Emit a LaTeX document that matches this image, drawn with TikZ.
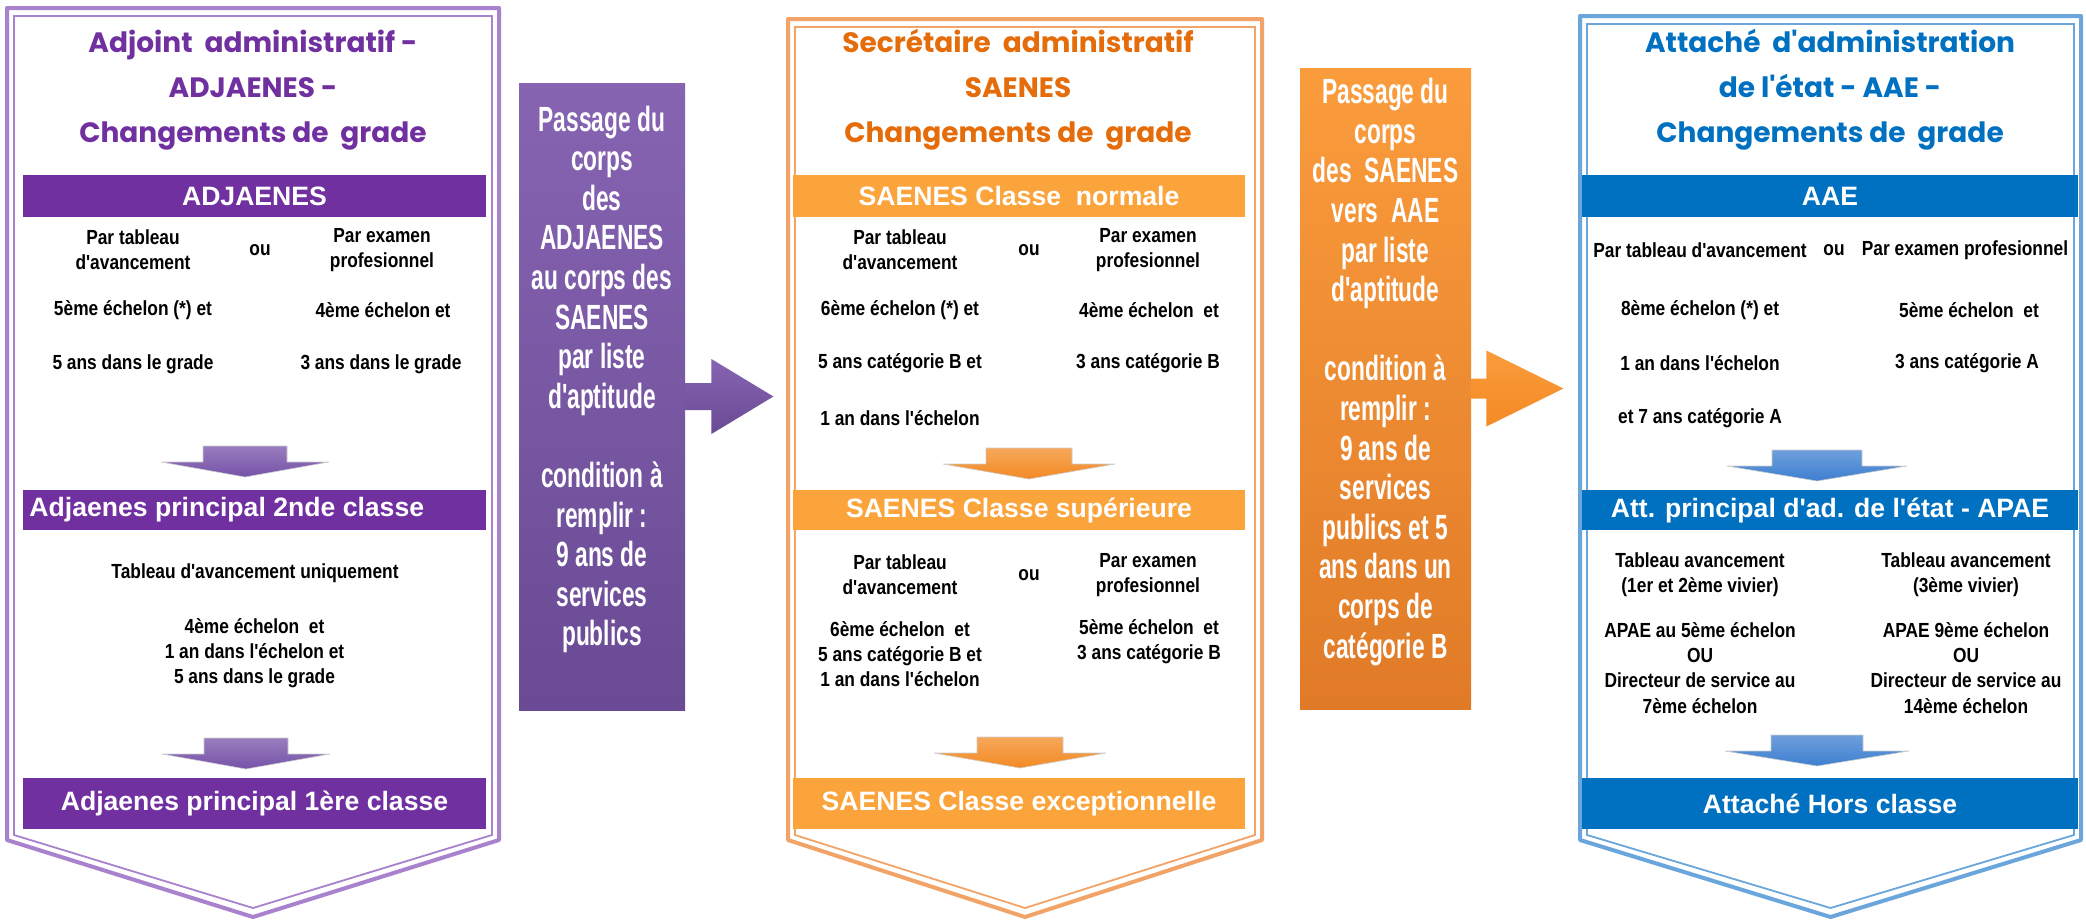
\documentclass[tikz,border=0pt]{standalone}
\usepackage{fontspec}
\usepackage{tikz}
\usetikzlibrary{arrows.meta}
\setmainfont{Liberation Sans}[Ligatures=TeXOff]
\newfontfamily\titlefont{Poppins}[Ligatures=TeXOff]
\newfontfamily\narrowfont{Liberation Sans}[Ligatures=TeXOff, FakeStretch=0.85]
\newfontfamily\agencyfont{Liberation Sans}[Ligatures=TeXOff, FakeStretch=0.65]

\definecolor{adjviolet}{HTML}{7030A0}
\definecolor{adjframe}{HTML}{A882CC}
\definecolor{adjboxtop}{HTML}{8664B2}
\definecolor{adjboxbot}{HTML}{6A4A94}
\definecolor{adjarrow}{HTML}{7652A8}
\definecolor{saeorange}{HTML}{E46C0A}
\definecolor{saebar}{HTML}{FBA43C}
\definecolor{saeframe}{HTML}{F2A468}
\definecolor{saeboxtop}{HTML}{FA9C3C}
\definecolor{saeboxbot}{HTML}{E07A27}
\definecolor{saearrow}{HTML}{F38A24}
\definecolor{aaeblue}{HTML}{0070C0}
\definecolor{aaeframe}{HTML}{6AA6DC}
\definecolor{aaearrow}{HTML}{3E7FD0}

\tikzset{
  titletext/.style={text=#1, font=\titlefont\bfseries\fontsize{14}{22.5}\selectfont, align=center, inner sep=0pt},
  gradebar/.style={fill=#1, text=white, font=\bfseries\fontsize{13.3}{15}\selectfont, inner sep=0pt},
  bodytext/.style={font=\narrowfont\bfseries\fontsize{10.2}{12.6}\selectfont, align=center, inner sep=0pt},
  passtext/.style={text=white, font=\agencyfont\bfseries\fontsize{17.5}{19.8}\selectfont, align=center, inner sep=0pt},
}

\begin{document}
\begin{tikzpicture}[x=0.5pt, y=-0.5pt]
    \useasboundingbox (0,0) rectangle (2086,921);
    \fill [white] (0,0) rectangle (2086,921);

    \foreach \xl/\xr/\yt/\col in {7/499/8/adjframe, 788/1262/19/saeframe, 1580/2081/16/aaeframe} {
        \draw [line width=2pt, color=\col, line join=round] (\xl,\yt) -- (\xr,\yt) -- (\xr,840) -- ({(\xl+\xr)/2},917) -- (\xl,840) -- cycle;
        \draw [line width=0.9pt, color=\col] (\xl+7,\yt+8) -- (\xr-7,\yt+8) -- (\xr-7,835) -- ({(\xl+\xr)/2},908) -- (\xl+7,835) -- cycle;
    }

    \foreach \cx/\cy/\hw/\col in {245/446/42/adjarrow, 246/738/42/adjarrow, 1029/448/43/saearrow, 1020/737/43/saearrow, 1817/450/45/aaearrow, 1817/735/46/aaearrow}
        \shade [top color=\col!75!white, bottom color=\col, draw=black!20, line width=0.3pt] (\cx-\hw,\cy) -- (\cx+\hw,\cy) -- (\cx+\hw,\cy+16) -- (\cx+2*\hw,\cy+16) -- (\cx,\cy+31) -- (\cx-2*\hw,\cy+16) -- (\cx-\hw,\cy+16) -- cycle;

    \node (adjtitle) [titletext=adjviolet] at (253,90) {Adjoint~ administratif -\\ADJAENES -\\Changements de~ grade};
    \node (adjgrade1) [gradebar=adjviolet, minimum width=231.5pt, minimum height=21pt] at (254.5,196) {ADJAENES};
    \node (adjtab) [bodytext] at (133,250) {Par tableau\\d'avancement};
    \node (adjou) [bodytext] at (260,250) {ou};
    \node (adjexam) [bodytext] at (382,250) {Par examen\\profesionnel};
    \node (adjechtab) [bodytext] at (133,310) {5ème échelon (*) et};
    \node (adjechexam) [bodytext] at (383,310) {4ème échelon et};
    \node (adjanstab) [bodytext] at (133,364) {5 ans dans le grade};
    \node (adjansexam) [bodytext] at (381,364) {3 ans dans le grade};
    \node (adjgrade2) [gradebar=adjviolet, minimum width=231.5pt, minimum height=20pt] at (254.5,510) {};
    \node (adjgrade2txt) [gradebar=adjviolet, anchor=west] at (29,510) {Adjaenes principal 2nde classe};
    \node (adjuniq) [bodytext] at (255,573) {Tableau d'avancement uniquement};
    \node (adjcond) [bodytext] at (254.5,653) {4ème échelon~ et\\1 an dans l'échelon et\\5 ans dans le grade};
    \node (adjgrade3) [gradebar=adjviolet, minimum width=231.5pt, minimum height=25.5pt] at (254.5,803.5) {Adjaenes principal 1ère classe};

    \node (adjpassbox) [top color=adjboxtop, bottom color=adjboxbot, minimum width=83pt, minimum height=313.5pt, inner sep=0pt] at (602,396.5) {};
    \node (adjpasstext) [passtext] at (602,379.5) {Passage du\\corps\\des\\ADJAENES\\au corps des\\SAENES\\par liste\\d'aptitude\\[19.8pt]condition à\\remplir :\\9 ans de\\services\\publics};
    \shade [top color=adjboxtop, bottom color=adjboxbot] (adjpassbox.east) ++(0,-13.5) -- ++(26,0) -- ++(0,-24) -- ++(62,37.5) -- ++(-62,37.5) -- ++(0,-24) -- ++(-26,0) -- cycle;

    \node (saetitle) [titletext=saeorange] at (1018,90) {Secrétaire~ administratif\\SAENES\\Changements de~ grade};
    \node (saegrade1) [gradebar=saebar, minimum width=226pt, minimum height=21pt] at (1019,196) {SAENES Classe~ normale};
    \node (saetab) [bodytext] at (900,250) {Par tableau\\d'avancement};
    \node (saeou) [bodytext] at (1029,250) {ou};
    \node (saeexam) [bodytext] at (1148,250) {Par examen\\profesionnel};
    \node (saeechtab) [bodytext] at (900,310) {6ème échelon (*) et};
    \node (saeechexam) [bodytext] at (1149,310) {4ème échelon~ et};
    \node (saeanstab) [bodytext] at (900,363) {5 ans catégorie B et};
    \node (saeansexam) [bodytext] at (1148,363) {3 ans catégorie B};
    \node (saeantab) [bodytext] at (900,418) {1 an dans l'échelon};
    \node (saegrade2) [gradebar=saebar, minimum width=226pt, minimum height=20pt] at (1019,510) {SAENES Classe supérieure};
    \node (saetabsup) [bodytext] at (900,575) {Par tableau\\d'avancement};
    \node (saeousup) [bodytext] at (1029,575) {ou};
    \node (saeexamsup) [bodytext] at (1148,575) {Par examen\\profesionnel};
    \node (saecondtab) [bodytext] at (900,654) {6ème échelon~ et\\5 ans catégorie B et\\1 an dans l'échelon};
    \node (saecondexam) [bodytext] at (1149,642) {5ème échelon~ et\\3 ans catégorie B};
    \node (saegrade3) [gradebar=saebar, minimum width=226pt, minimum height=25.5pt] at (1019,803.5) {SAENES Classe exceptionnelle};

    \node (saepassbox) [top color=saeboxtop, bottom color=saeboxbot, minimum width=85.5pt, minimum height=320.5pt, inner sep=0pt] at (1385.5,388.5) {};
    \node (saepasstext) [passtext] at (1385.5,372) {Passage du\\corps\\des~ SAENES\\vers~ AAE\\par liste\\d'aptitude\\[19.8pt]condition à\\remplir :\\9 ans de\\services\\publics et 5\\ans dans un\\corps de\\catégorie B};
    \shade [top color=saeboxtop, bottom color=saearrow] (saepassbox.east) ++(0,-10) -- ++(15,0) -- ++(0,-28) -- ++(77,38) -- ++(-77,38) -- ++(0,-28) -- ++(-15,0) -- cycle;

    \node (aaetitle) [titletext=aaeblue] at (1830,90) {Attaché~ d'administration\\de l'état - AAE -\\Changements de~ grade};
    \node (aaegrade1) [gradebar=aaeblue, minimum width=248pt, minimum height=21pt] at (1830,196) {AAE};
    \node (aaetab) [bodytext] at (1700,250) {Par tableau d'avancement};
    \node (aaeou) [bodytext] at (1834,250) {ou};
    \node (aaeexam) [bodytext] at (1965,250) {Par examen profesionnel};
    \node (aaeechtab) [bodytext] at (1700,310) {8ème échelon (*) et};
    \node (aaeechexam) [bodytext] at (1969,310) {5ème échelon~ et};
    \node (aaeantab) [bodytext] at (1700,363) {1 an dans l'échelon};
    \node (aaeansexam) [bodytext] at (1967,363) {3 ans catégorie A};
    \node (aaeanstab) [bodytext] at (1700,418) {et 7 ans catégorie A};
    \node (aaegrade2) [gradebar=aaeblue, minimum width=248pt, minimum height=20pt] at (1830,510) {Att. principal d'ad. de l'état - APAE};
    \node (aaevivtab) [bodytext] at (1700,575) {Tableau avancement\\(1er et 2ème vivier)};
    \node (aaevivexam) [bodytext] at (1966,575) {Tableau avancement\\(3ème vivier)};
    \node (aaeapaetab) [bodytext] at (1700,668) {APAE au 5ème échelon\\OU\\Directeur de service au\\7ème échelon};
    \node (aaeapaeexam) [bodytext] at (1966,668) {APAE 9ème échelon\\OU\\Directeur de service au\\14ème échelon};
    \node (aaegrade3) [gradebar=aaeblue, minimum width=248pt, minimum height=25.5pt] at (1830,803.5) {Attaché Hors classe};
\end{tikzpicture}
\end{document}
